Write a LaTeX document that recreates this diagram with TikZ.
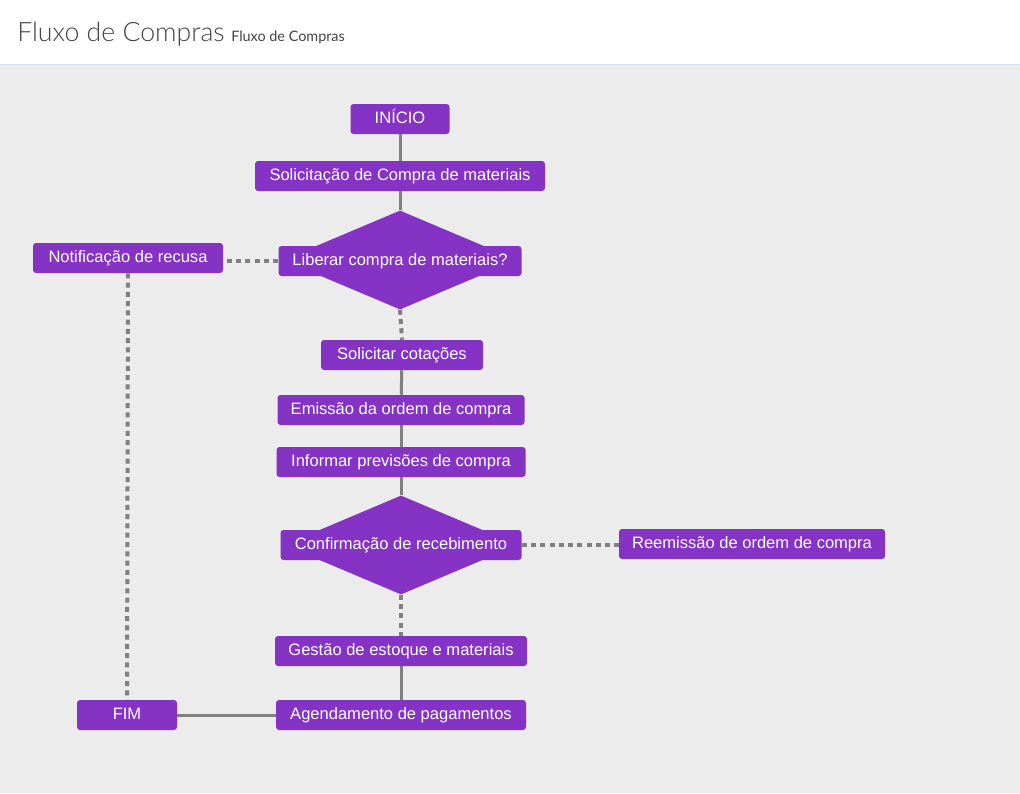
\documentclass[tikz,border=0pt]{standalone}
\usepackage{fontspec}
\setmainfont{Lato}
\newfontfamily\lightfont{Lato}[UprightFont={* Light}]
\newfontfamily\boxfont{Liberation Sans}
\usetikzlibrary{shapes.geometric}
\definecolor{flowpurple}{RGB}{133,51,196}
\definecolor{linegray}{RGB}{128,128,128}
\definecolor{pagegray}{RGB}{236,236,236}
\definecolor{headline}{RGB}{212,222,236}
\definecolor{titlegray}{RGB}{68,68,68}
\pgfdeclarelayer{back}
\pgfdeclarelayer{lines}
\pgfsetlayers{back,lines,main}

\tikzset{every picture/.style={line width=0.75pt}}
\tikzset{
  box/.style={fill=flowpurple, rounded corners=2.25pt, text=white, inner sep=0pt,
    font=\boxfont\fontsize{12.4}{14}\selectfont, text height=0.72em, text depth=0pt,
    minimum height=22.5pt, minimum width={#1*0.75pt}},
  decision/.style={diamond, fill=flowpurple, inner sep=0pt, minimum width=175.5pt, minimum height=74.25pt},
  solidlink/.style={draw=linegray, line width=2.25pt},
  dottedlink/.style={draw=linegray, line width=3pt, dash pattern=on 3.75pt off 3.2pt}
}

\begin{document}
\begin{tikzpicture}[x=0.75pt,y=0.75pt,yscale=-1,xscale=1]
    \useasboundingbox (0,0) rectangle (1020,793);
    \begin{pgfonlayer}{back}
    %Page background
    \fill[pagegray] (0,0) rectangle (1020,793);
    %Header band
    \fill[white] (0,0) rectangle (1020,64);
    \draw[headline] (0,64.5) -- (1020,64.5);
    \end{pgfonlayer}
    % Text Node
    \node[anchor=base west, inner sep=0pt, text=titlegray] (titulo) at (17,41) {\lightfont\fontsize{20}{24}\selectfont Fluxo de Compras};
    % Text Node
    \node[anchor=base west, inner sep=0pt, text=titlegray] (subtitulo) at (231,41) {\fontsize{10.8}{12}\selectfont Fluxo de Compras};
    %Decisions
    \node[decision] (liberard) at (400,260) {};
    \node[decision] (confirmard) at (401,545) {};
    %Steps
    \node[box=99] (inicio) at (400,119) {INÍCIO};
    \node[box=290] (solicitacao) at (400,176) {Solicitação de Compra de materiais};
    \node[box=243] (liberar) at (400,261) {Liberar compra de materiais?};
    \node[box=190] (recusa) at (128,258) {Notificação de recusa};
    \node[box=162] (cotacoes) at (402,355) {Solicitar cotações};
    \node[box=247] (emissao) at (401,410) {Emissão da ordem de compra};
    \node[box=249] (previsoes) at (401,462) {Informar previsões de compra};
    \node[box=241] (confirmacao) at (401,545) {Confirmação de recebimento};
    \node[box=266] (reemissao) at (752,544) {Reemissão de ordem de compra};
    \node[box=252] (estoque) at (401,651) {Gestão de estoque e materiais};
    \node[box=250] (pagamentos) at (401,715) {Agendamento de pagamentos};
    \node[box=100] (fim) at (127,715) {FIM};
    \begin{pgfonlayer}{lines}
    %Straight Lines
    \draw[solidlink] (inicio) -- (solicitacao);
    \draw[solidlink] (solicitacao) -- (liberard);
    \draw[dottedlink] (liberar.west) -- (liberar.west -| recusa.east);
    \draw[dottedlink] (recusa) -- (fim);
    \draw[dottedlink] (liberard.south) -- (cotacoes.north);
    \draw[solidlink] (cotacoes) -- (emissao);
    \draw[solidlink] (emissao) -- (previsoes);
    \draw[solidlink] (previsoes) -- (confirmard);
    \draw[dottedlink] (confirmacao.east) -- (confirmacao.east -| reemissao.west);
    \draw[dottedlink] (confirmard.south) -- (estoque.north);
    \draw[solidlink] (estoque) -- (pagamentos);
    \draw[solidlink] (pagamentos) -- (fim);
    \end{pgfonlayer}
\end{tikzpicture}
\end{document}
